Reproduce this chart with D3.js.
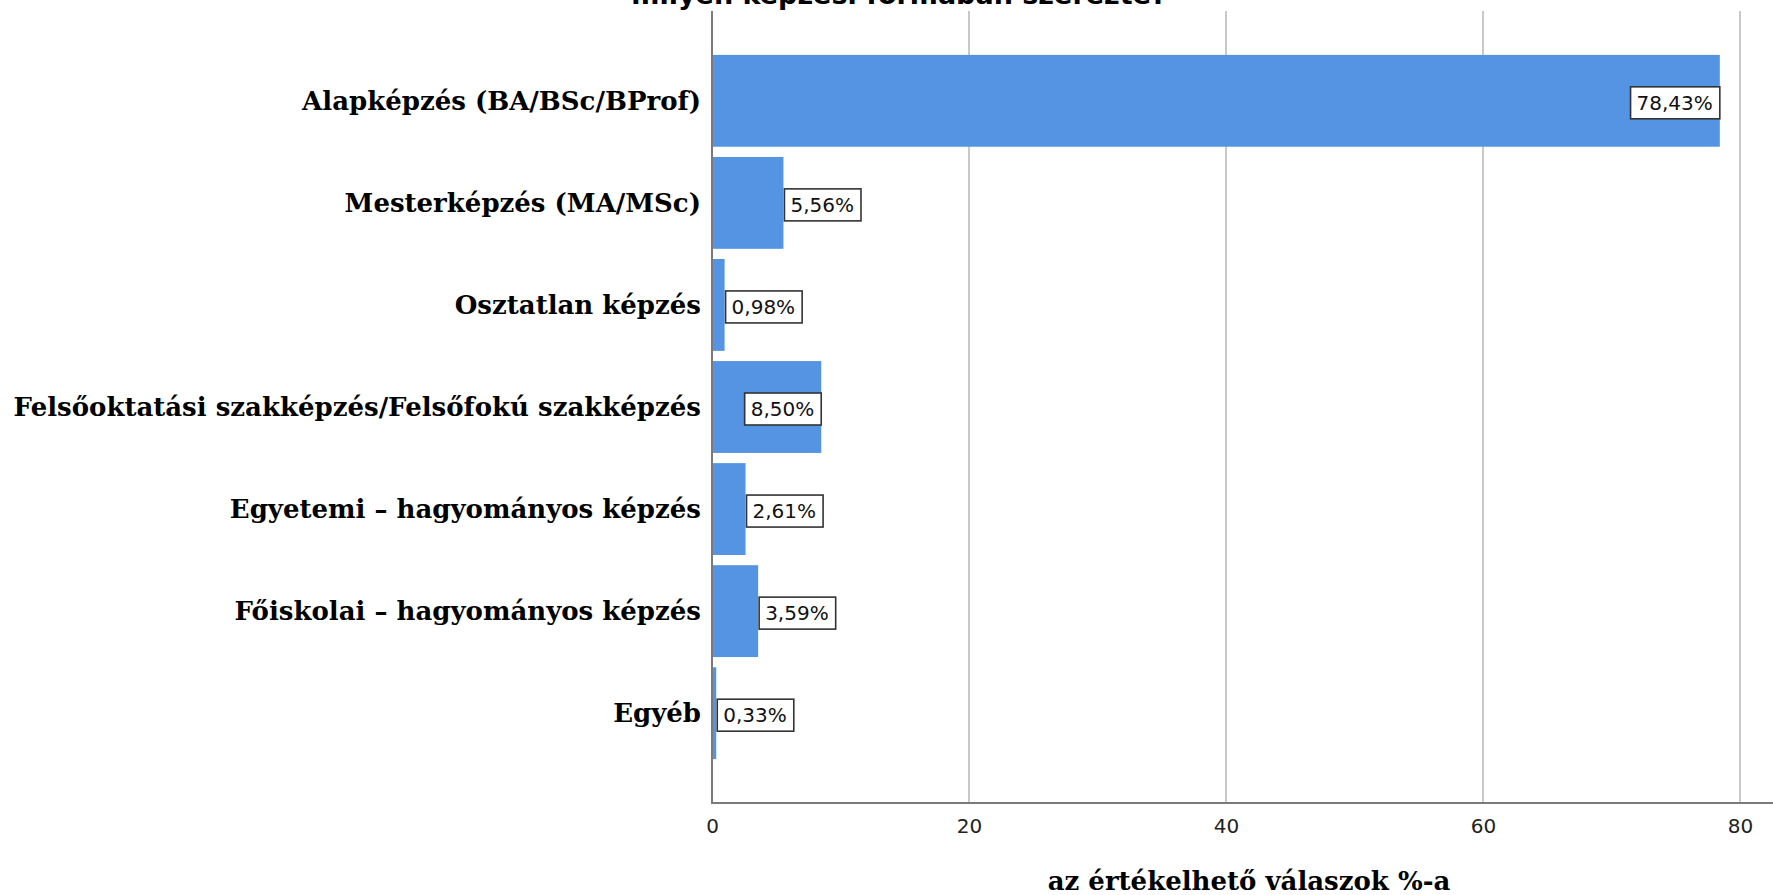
<!DOCTYPE html>
<html lang="hu">
<head>
    <meta charset="UTF-8">
    <title>Képzési forma</title>
    <script src="https://cdn.jsdelivr.net/npm/d3@7"></script>
</head>
<style>
    body { margin: 0; background: #fff; }
    .cat { font: bold 26px "DejaVu Serif", serif; fill: #000; text-anchor: end; }
    .tick text { font: 20px "DejaVu Sans", sans-serif; fill: #222; }
    .lbl { font: 20px "DejaVu Sans", sans-serif; fill: #111; }
</style>
<body>
<svg class="chart"></svg>
<script>
    let categories = [
        'Alapképzés (BA/BSc/BProf)',
        'Mesterképzés (MA/MSc)',
        'Osztatlan képzés',
        'Felsőoktatási szakképzés/Felsőfokú szakképzés',
        'Egyetemi – hagyományos képzés',
        'Főiskolai – hagyományos képzés',
        'Egyéb'
    ];
    let values = [78.43, 5.56, 0.98, 8.50, 2.61, 3.59, 0.33];
    let xTicks = [0, 20, 40, 60, 80];
    let title = 'milyen képzési formában szerezte?';
    let xTitle = 'az értékelhető válaszok %-a';

    let width = 1773, height = 895;
    let m = {top: 11, left: 712, right: 0, bottom: 92};

    let svg = d3.select('.chart')
        .attr('width', width)
        .attr('height', height);

    let x = d3.scaleLinear()
        .domain([0, 80])
        .range([m.left, 1740]);

    let y = d3.scaleBand()
        .domain(categories)
        .range([m.top, height - m.bottom])
        .paddingInner(0.1)
        .paddingOuter(0.43);

    // grid lines
    svg.append('g')
        .selectAll('line')
        .data(xTicks.filter(d => d > 0))
        .enter().append('line')
        .attr('x1', d => x(d)).attr('x2', d => x(d))
        .attr('y1', m.top).attr('y2', height - m.bottom)
        .attr('stroke', '#c9c9c9')
        .attr('stroke-width', 2);

    // bars
    svg.append('g')
        .selectAll('rect')
        .data(values)
        .enter().append('rect')
        .attr('x', x(0))
        .attr('y', (d, i) => y(categories[i]))
        .attr('width', d => x(d) - x(0))
        .attr('height', y.bandwidth())
        .attr('fill', '#5594e3');

    // axes
    let xAxis = svg.append('g')
        .attr('transform', 'translate(0,' + (height - m.bottom) + ')')
        .call(d3.axisBottom(x).tickValues(xTicks).tickSize(0).tickPadding(16));
    xAxis.select('.domain').remove();
    svg.append('line')
        .attr('x1', x(0) - 1).attr('x2', width)
        .attr('y1', height - m.bottom).attr('y2', height - m.bottom)
        .attr('stroke', '#7a7a7a').attr('stroke-width', 2);
    svg.append('line')
        .attr('x1', x(0)).attr('x2', x(0))
        .attr('y1', m.top).attr('y2', height - m.bottom)
        .attr('stroke', '#7a7a7a').attr('stroke-width', 2);

    // category labels
    svg.append('g')
        .selectAll('text')
        .data(categories)
        .enter().append('text')
        .attr('class', 'cat')
        .attr('x', x(0) - 11)
        .attr('y', d => y(d) + y.bandwidth() / 2)
        .attr('dy', '.35em')
        .text(d => d);

    // value labels in boxes
    let lbl = svg.append('g')
        .selectAll('g')
        .data(values)
        .enter().append('g');
    lbl.append('rect')
        .attr('fill', '#fff')
        .attr('stroke', '#333')
        .attr('stroke-width', 1.6);
    lbl.append('text')
        .attr('class', 'lbl')
        .attr('dy', '.36em')
        .text(d => d.toFixed(2).replace('.', ',') + '%');
    lbl.each(function (d, i) {
        let g = d3.select(this);
        let tw = g.select('text').node().getComputedTextLength();
        let bw = tw + 13, bh = 32;
        let barEnd = x(d);
        let bx = (barEnd - x(0) > bw + 10) ? barEnd - bw : barEnd + 1;
        let cy = y(categories[i]) + y.bandwidth() / 2 + 2;
        g.select('rect')
            .attr('x', bx).attr('y', cy - bh / 2)
            .attr('width', bw).attr('height', bh);
        g.select('text')
            .attr('x', bx + 6).attr('y', cy);
    });

    // titles
    svg.append('text')
        .attr('x', 899).attr('y', 4)
        .attr('text-anchor', 'middle')
        .style('font', 'bold 27px "DejaVu Sans", sans-serif')
        .text(title);
    svg.append('text')
        .attr('x', 1249).attr('y', 890)
        .attr('text-anchor', 'middle')
        .style('font', 'bold 26px "DejaVu Serif", serif')
        .text(xTitle);
</script>
</body>
</html>
